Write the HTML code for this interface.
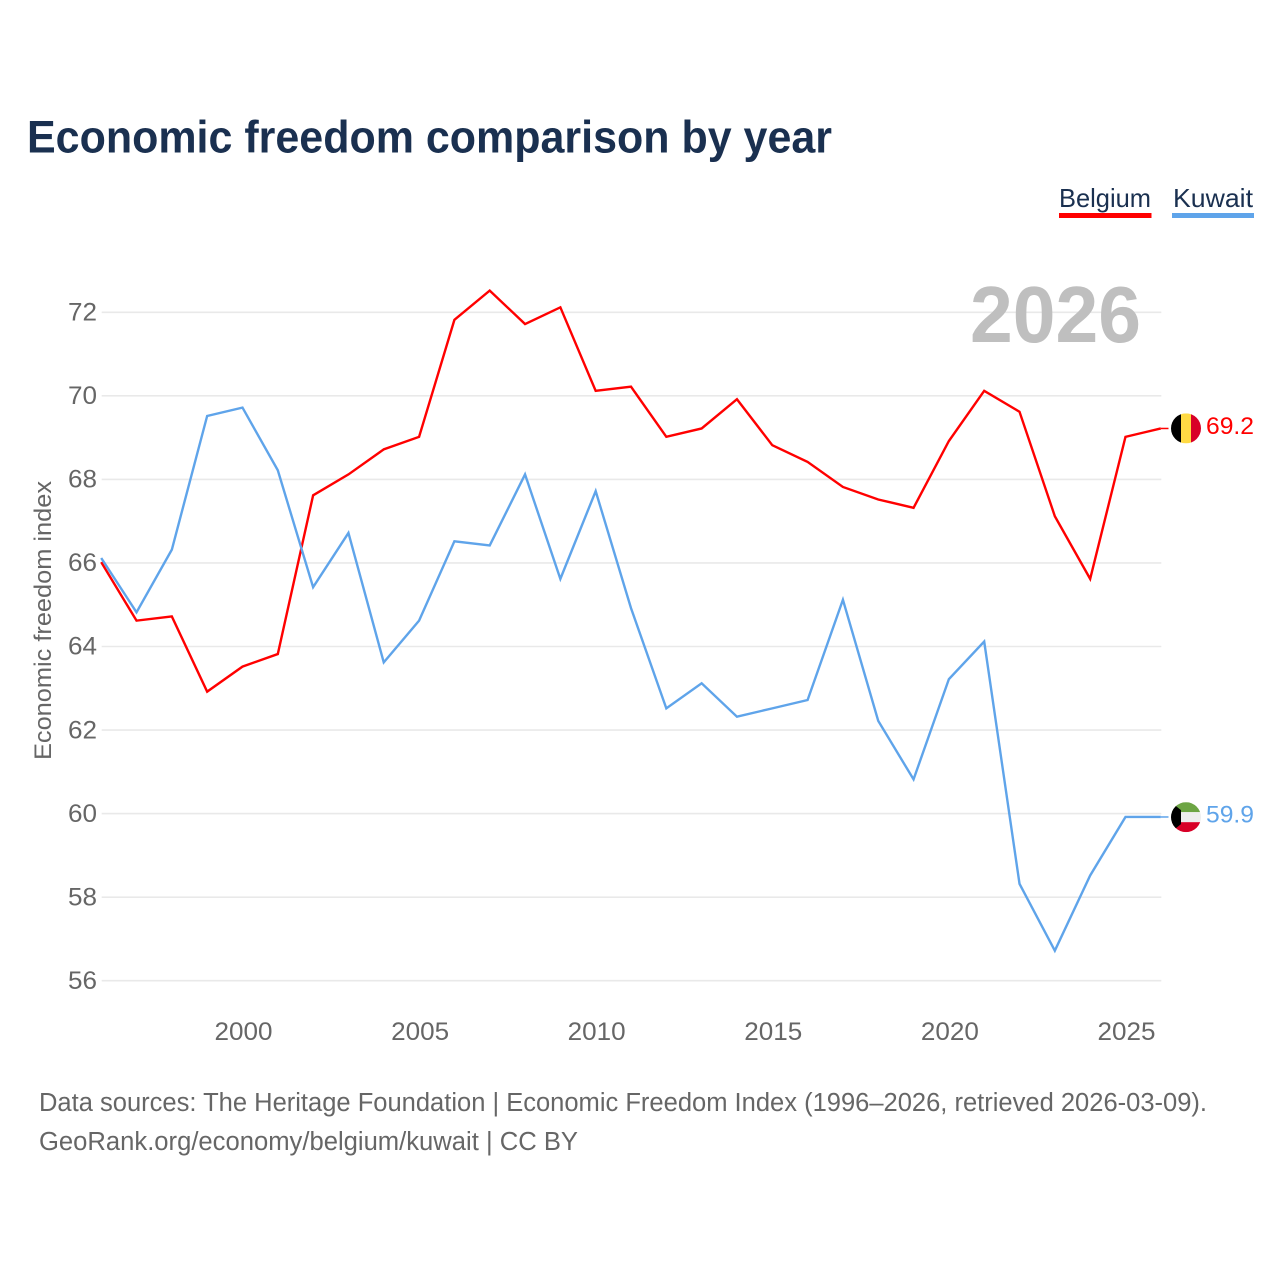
<!DOCTYPE html>
<html lang="en">
<head>
<meta charset="utf-8">
<title>Economic freedom comparison by year</title>
<style>
html,body{margin:0;padding:0;background:#fff;}
svg{display:block;font-family:"Liberation Sans",sans-serif;}
</style>
</head>
<body>
<svg id="chart" width="1280" height="1280" viewBox="0 0 1280 1280" xmlns="http://www.w3.org/2000/svg">
  <defs>
    <clipPath id="flag-clip"><circle cx="0" cy="0" r="15"></circle></clipPath>
  </defs>
  <rect x="0" y="0" width="1280" height="1280" fill="#ffffff"></rect>
  <text x="27" y="152.5" font-size="45" font-weight="700" fill="#1a3050" textLength="805" lengthAdjust="spacingAndGlyphs">Economic freedom comparison by year</text>

  <g>
    <text x="1059" y="207" font-size="26" fill="#1a3050" textLength="92" lengthAdjust="spacingAndGlyphs">Belgium</text>
    <rect x="1059" y="213" width="92.5" height="5" fill="#ff0000"></rect>
  </g>
  <g>
    <text x="1173" y="207" font-size="26" fill="#1a3050" textLength="80" lengthAdjust="spacingAndGlyphs">Kuwait</text>
    <rect x="1172" y="213" width="82" height="5" fill="#5fa4ea"></rect>
  </g>

  <g id="grid"></g>
  <g id="y-axis"></g>
  <g id="x-axis"></g>
  <text transform="translate(51,620.5) rotate(-90)" text-anchor="middle" font-size="24" fill="#666666" textLength="279" lengthAdjust="spacingAndGlyphs">Economic freedom index</text>
  <text x="970" y="342" font-size="80" font-weight="700" fill="#bfbfbf" textLength="171" lengthAdjust="spacingAndGlyphs">2026</text>

  <g id="series" transform="translate(-0.5,-0.8)"></g>

  <g id="flag-belgium">
    <g clip-path="url(#flag-clip)">
      <rect x="-15" y="-15" width="10" height="30" fill="#000000"></rect>
      <rect x="-5" y="-15" width="10" height="30" fill="#ffda44"></rect>
      <rect x="5" y="-15" width="10" height="30" fill="#d80027"></rect>
    </g>
  </g>
  <g id="flag-kuwait">
    <g clip-path="url(#flag-clip)">
      <rect x="-15" y="-15" width="30" height="10" fill="#6da544"></rect>
      <rect x="-15" y="-5" width="30" height="10" fill="#eeeeee"></rect>
      <rect x="-15" y="5" width="30" height="10" fill="#d80027"></rect>
      <polygon points="-15,-15 -5,-7 -5,7 -15,15" fill="#000000"></polygon>
    </g>
  </g>
  <text id="value-belgium" x="1206" font-size="24.5" fill="#ff0000" textLength="48" lengthAdjust="spacingAndGlyphs"></text>
  <text id="value-kuwait" x="1206" font-size="24.5" fill="#5fa4ea" textLength="48" lengthAdjust="spacingAndGlyphs"></text>

  <text x="39" y="1111" font-size="25.5" fill="#666666" textLength="1168" lengthAdjust="spacingAndGlyphs">Data sources: The Heritage Foundation | Economic Freedom Index (1996–2026, retrieved 2026-03-09).</text>
  <text x="39" y="1150" font-size="25.5" fill="#666666" textLength="539" lengthAdjust="spacingAndGlyphs">GeoRank.org/economy/belgium/kuwait | CC BY</text>
</svg>
<script>
const years = [1996,1997,1998,1999,2000,2001,2002,2003,2004,2005,2006,2007,2008,2009,2010,2011,2012,2013,2014,2015,2016,2017,2018,2019,2020,2021,2022,2023,2024,2025,2026];
const belgiumValues = [66.0,64.6,64.7,62.9,63.5,63.8,67.6,68.1,68.7,69.0,71.8,72.5,71.7,72.1,70.1,70.2,69.0,69.2,69.9,68.8,68.4,67.8,67.5,67.3,68.9,70.1,69.6,67.1,65.6,69.0,69.2];
const kuwaitValues = [66.1,64.8,66.3,69.5,69.7,68.2,65.4,66.7,63.6,64.6,66.5,66.4,68.1,65.6,67.7,64.9,62.5,63.1,62.3,62.5,62.7,65.1,62.2,60.8,63.2,64.1,58.3,56.7,58.5,59.9,59.9];
const yTicks = [56,58,60,62,64,66,68,70,72];
const xTicks = [2000,2005,2010,2015,2020,2025];

const SVG_NS = 'http://www.w3.org/2000/svg';
const plotLeft = 101.7, plotRight = 1161.3, plotBottomY = 980.7, plotTopY = 312.3;

function x(year) {
  return plotLeft + (year - years[0]) / (years[years.length - 1] - years[0]) * (plotRight - plotLeft);
}
function y(value) {
  return plotBottomY + (value - yTicks[0]) / (yTicks[yTicks.length - 1] - yTicks[0]) * (plotTopY - plotBottomY);
}
function make(tag, attrs, parent) {
  const el = document.createElementNS(SVG_NS, tag);
  for (const k in attrs) el.setAttribute(k, attrs[k]);
  parent.appendChild(el);
  return el;
}

const gridGroup = document.getElementById('grid');
const yAxisGroup = document.getElementById('y-axis');
const xAxisGroup = document.getElementById('x-axis');
const seriesGroup = document.getElementById('series');

yTicks.forEach(function (tick) {
  const line = make('line', {x1: plotLeft, x2: plotRight, y1: y(tick), y2: y(tick), stroke: '#e9e9e9', 'stroke-width': 1.6}, gridGroup);
  
  
  const label = make('text', {x: 97, y: y(tick) + 8.2, 'text-anchor': 'end', 'font-size': 25, fill: '#666666', textLength: 29, lengthAdjust: 'spacingAndGlyphs'}, yAxisGroup);
  label.textContent = String(tick);
  
  
});

xTicks.forEach(function (tick) {
  const label = make('text', {x: x(tick) + 0.5, y: 1040, 'text-anchor': 'middle', 'font-size': 25, fill: '#666666', textLength: 58, lengthAdjust: 'spacingAndGlyphs'}, xAxisGroup);
  label.textContent = String(tick);
  
  
});

function linePoints(values) {
  return values.map(function (v, i) { return x(years[i]).toFixed(2) + ',' + y(v).toFixed(2); }).join(' ');
}

const belgiumLine = make('polyline', {points: linePoints(belgiumValues), fill: 'none', stroke: '#ff0000', 'stroke-width': 2.4, 'stroke-linejoin': 'miter'}, seriesGroup);



const kuwaitLine = make('polyline', {points: linePoints(kuwaitValues), fill: 'none', stroke: '#5fa4ea', 'stroke-width': 2.4, 'stroke-linejoin': 'miter'}, seriesGroup);



const belgiumLast = belgiumValues[belgiumValues.length - 1];
const kuwaitLast = kuwaitValues[kuwaitValues.length - 1];

const belgiumConnector = make('line', {x1: plotRight, x2: 1169, y1: y(belgiumLast), y2: y(belgiumLast), stroke: '#ff0000', 'stroke-width': 1.5}, seriesGroup);



const kuwaitConnector = make('line', {x1: plotRight, x2: 1169, y1: y(kuwaitLast), y2: y(kuwaitLast), stroke: '#5fa4ea', 'stroke-width': 1.5}, seriesGroup);



document.getElementById('flag-belgium').setAttribute('transform', 'translate(1186,' + (y(belgiumLast) - 0.9).toFixed(2) + ')');
document.getElementById('flag-kuwait').setAttribute('transform', 'translate(1186,' + (y(kuwaitLast) - 0.6).toFixed(2) + ')');

const belgiumValueLabel = document.getElementById('value-belgium');
belgiumValueLabel.setAttribute('y', (y(belgiumLast) + 4.8).toFixed(2));
belgiumValueLabel.textContent = belgiumLast.toFixed(1);

const kuwaitValueLabel = document.getElementById('value-kuwait');
kuwaitValueLabel.setAttribute('y', (y(kuwaitLast) + 4.8).toFixed(2));
kuwaitValueLabel.textContent = kuwaitLast.toFixed(1);
</script>
</body>
</html>
